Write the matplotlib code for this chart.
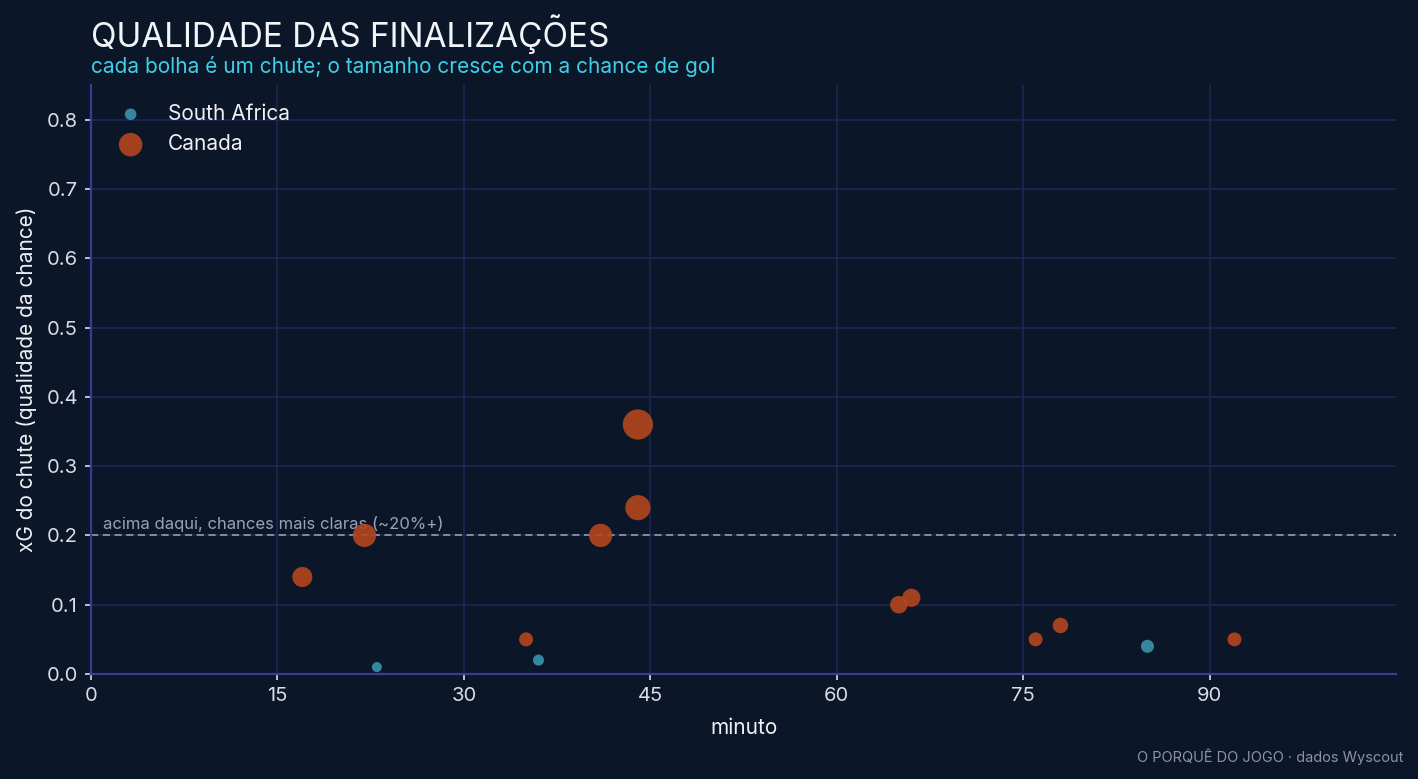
import matplotlib
matplotlib.use("Agg")
import matplotlib.pyplot as plt
from matplotlib.ticker import FormatStrFormatter

# Data
sa_min = [23, 36, 85]
sa_xg = [0.01, 0.02, 0.04]
ca_min = [17, 22, 35, 41, 44, 44, 65, 66, 76, 78, 92]
ca_xg = [0.14, 0.20, 0.05, 0.20, 0.36, 0.24, 0.10, 0.11, 0.05, 0.07, 0.05]
x_ticks = [0, 15, 30, 45, 60, 75, 90]
y_ticks = [0.0, 0.1, 0.2, 0.3, 0.4, 0.5, 0.6, 0.7, 0.8]

BG = "#0b1628"
plt.rcParams['font.family'] = ['Inter', 'DejaVu Sans']

fig = plt.figure(figsize=(14.18, 7.79), dpi=100, facecolor=BG)
ax = fig.add_axes([0.0642, 0.1348, 0.9203, 0.7561])
ax.set_facecolor(BG)

def size(v):
    return [40 + 1200 * x for x in v]

ax.set_axisbelow(True)
ax.grid(True, color="#1d2552", linewidth=1.3)
ax.axhline(0.2, color="#8a93aa", linestyle=(0, (4, 2.5)), linewidth=1.3, zorder=2)
ax.text(1, 0.205, "acima daqui, chances mais claras (~20%+)", color="#9aa3b5",
        fontsize=12, ha="left", va="bottom", zorder=2)

ax.scatter(sa_min, sa_xg, s=size(sa_xg), color="#3a93ad", alpha=0.9,
           edgecolors="none", label="South Africa", zorder=3)
ax.scatter(ca_min, ca_xg, s=size(ca_xg), color="#b5461d", alpha=0.9,
           edgecolors="none", label="Canada", zorder=3)

ax.set_xlim(0, 105)
ax.set_ylim(0, 0.85)
ax.set_xticks(x_ticks)
ax.set_yticks(y_ticks)
ax.yaxis.set_major_formatter(FormatStrFormatter('%.1f'))
ax.tick_params(colors="#d8dce6", labelsize=14.5, length=4.5, width=1.2, pad=5)
for s in ["top", "right"]:
    ax.spines[s].set_visible(False)
for s in ["left", "bottom"]:
    ax.spines[s].set_color("#3a3d96")
    ax.spines[s].set_linewidth(1.6)

ax.set_xlabel("minuto", color="#eef0f5", fontsize=15, labelpad=9)
ax.set_ylabel("xG do chute (qualidade da chance)", color="#eef0f5", fontsize=15, labelpad=7)

leg = ax.legend(loc="upper left", frameon=False, fontsize=15, labelcolor="#eef0f5",
                borderaxespad=0.6, handletextpad=0.8, borderpad=0.3)

fig.text(0.0642, 0.9397, "QUALIDADE DAS FINALIZAÇÕES", color="#f2f4f8", fontsize=24,
         ha="left", va="baseline")
fig.text(0.0642, 0.9067, "cada bolha é um chute; o tamanho cresce com a chance de gol",
         color="#3fcfe6", fontsize=15, ha="left", va="baseline")
fig.text(0.99, 0.022, "O PORQUÊ DO JOGO · dados Wyscout", color="#8b93a5", fontsize=10.5,
         ha="right", va="baseline")

fig.savefig("out.png", dpi=100, facecolor=BG)
